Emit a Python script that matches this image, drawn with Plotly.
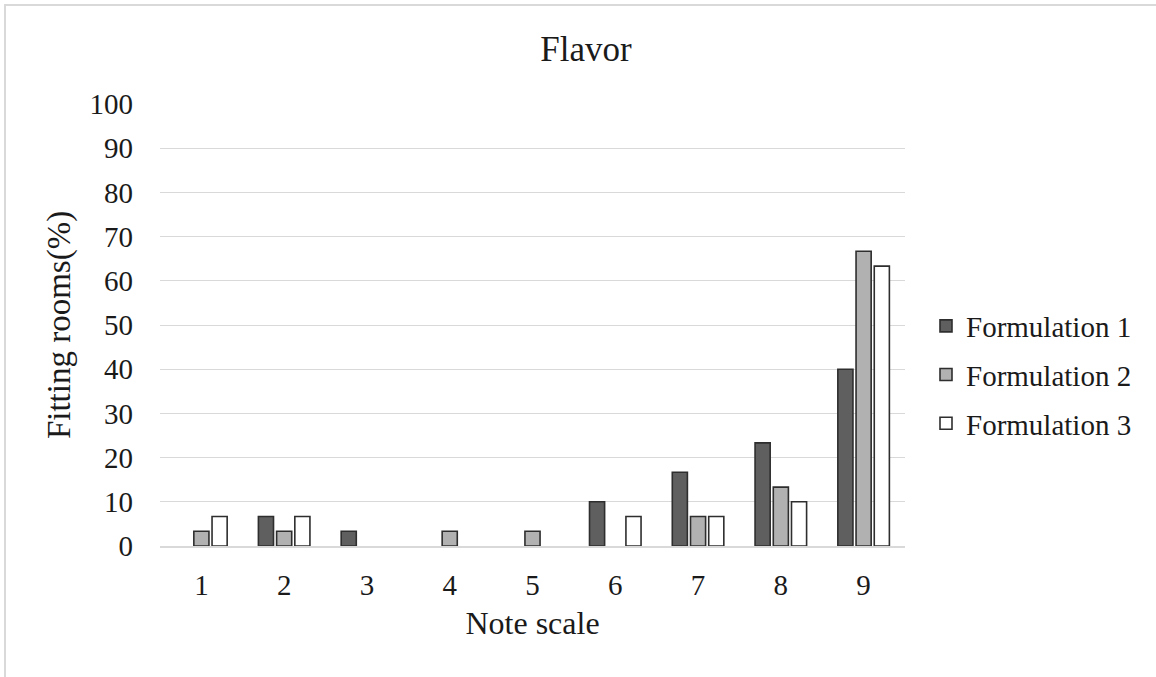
import plotly.graph_objects as go

# Share of panelists (%) giving each score on the 9-point scale
note_scale = ["1", "2", "3", "4", "5", "6", "7", "8", "9"]
formulation_1 = [0, 6.67, 3.33, 0, 0, 10.0, 16.67, 23.33, 40.0]
formulation_2 = [3.33, 3.33, 0, 3.33, 3.33, 0, 6.67, 13.33, 66.67]
formulation_3 = [6.67, 6.67, 0, 0, 0, 6.67, 6.67, 10.0, 63.33]

series_names = ["Formulation 1", "Formulation 2", "Formulation 3"]
series_colors = ["#5f5f5f", "#b1b1b1", "#ffffff"]

FONT = "Liberation Serif"

W, H = 1156, 677
L, R, T, B = 160, 251, 104, 131
pw, ph = W - L - R, H - T - B

fig = go.Figure()
for name, vals, col in zip(series_names,
                           [formulation_1, formulation_2, formulation_3],
                           series_colors):
    # empty categories get no bar outline at the baseline
    shown = [v if v > 0 else None for v in vals]
    fig.add_trace(go.Bar(
        x=note_scale, y=shown, name=name, legendgroup=name,
        marker=dict(color=col, line=dict(color="#2e2e2e", width=1.6)),
    ))

# light outer frame (top and left edges visible)
x0 = (5 - L) / pw
y1 = (H - B - 5) / ph
fig.add_shape(type="rect", xref="paper", yref="paper",
              x0=x0, x1=(W + 20 - L) / pw, y0=-(B + 20) / ph, y1=y1,
              line=dict(color="#d9d9d9", width=2), fillcolor="rgba(0,0,0,0)",
              layer="below")

fig.update_layout(
    width=W, height=H,
    margin=dict(l=L, r=R, t=T, b=B),
    paper_bgcolor="white", plot_bgcolor="white",
    barmode="group", bargap=0.34, bargroupgap=0.17,
    font=dict(family=FONT, size=29, color="#1a1a1a"),
    title=dict(text="Flavor", x=586 / W, xanchor="center",
               y=1 - 49 / H, yanchor="middle",
               font=dict(family=FONT, size=35, color="#1a1a1a")),
    xaxis=dict(title=dict(text="Note scale", standoff=12,
                          font=dict(family=FONT, size=32)),
               showgrid=False, showline=True, linecolor="#d9d9d9",
               linewidth=1.5, ticks="", tickfont=dict(family=FONT, size=29),
               ticklabelstandoff=12),
    yaxis=dict(title=dict(text="Fitting rooms(%)", standoff=8,
                          font=dict(family=FONT, size=33)),
               range=[0, 100], dtick=10, showgrid=True,
               gridcolor="#d9d9d9", gridwidth=1, zeroline=False,
               ticks="", tickfont=dict(family=FONT, size=29),
               ticklabelstandoff=26),
    legend=dict(x=(926 - L) / pw, xanchor="left",
                y=(H - B - 375) / ph, yanchor="middle",
                font=dict(family=FONT, size=29),
                traceorder="grouped", tracegroupgap=8,
                bgcolor="rgba(0,0,0,0)"),
    showlegend=True,
)

fig.write_html("out.html")
